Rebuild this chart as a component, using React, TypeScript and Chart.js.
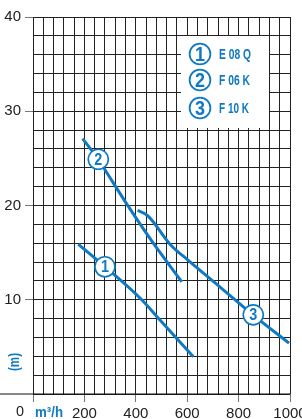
import React, { useEffect, useRef } from "react";
import { Chart, registerables } from "chart.js";

Chart.register(...registerables);

// ---- data ----
const curve1X = [176, 280, 423, 494, 624];
const curve1Y = [15.9, 13.5, 10.0, 7.85, 3.96];

const curve2X = [193, 254, 280, 371, 468, 579];
const curve2Y = [27.1, 24.9, 23.8, 19.9, 16.0, 11.9];

const curve3X = [407, 447, 533, 603, 728, 856, 996];
const curve3Y = [19.5, 18.9, 15.9, 14.2, 11.35, 8.4, 5.4];

const curveNumbers = ["1", "2", "3"];
const curveNames = ["E 08 Q", "F 06 K", "F 10 K"];
// positions of the numbered markers on the curves (data units)
const markerX = [280, 254, 857];
const markerY = [13.5, 24.9, 8.4];

const xMin = 0;
const xMax = 1000;
const xStep = 40;
const xLabelEvery = 200;
const yMin = 0;
const yMax = 40;
const yStep = 2;
const yLabelEvery = 10;
const xUnit = "m³/h";
const yUnit = "(m)";

const BLUE = "#0f79c3";
const FONT = "'Liberation Sans', Arial, sans-serif";

function toPoints(xs: number[], ys: number[]) {
  return xs.map((x, i) => ({ x, y: ys[i] }));
}

// draw text squeezed horizontally to a given width (condensed look)
function fitText(ctx: any, text: string, x: number, y: number, width: number, align: "left" | "center") {
  const w = ctx.measureText(text).width;
  const s = Math.min(1, width / w);
  ctx.save();
  ctx.translate(x, y);
  ctx.scale(s, 1);
  ctx.textAlign = align;
  ctx.textBaseline = "middle";
  ctx.fillText(text, 0, 0);
  ctx.restore();
}

const overlay = {
  id: "overlay",
  beforeDatasetsDraw(chart: any) {
    const ctx = chart.ctx;
    ctx.save();
    // legend box
    ctx.fillStyle = "#ffffff";
    ctx.fillRect(181, 36, 88, 92);
    const ys = [54, 80, 108];
    const widths = [32, 31, 30];
    curveNumbers.forEach((n, i) => {
      ctx.beginPath();
      ctx.arc(200, ys[i], 10.4, 0, Math.PI * 2);
      ctx.lineWidth = 1.8;
      ctx.strokeStyle = BLUE;
      ctx.stroke();
      ctx.fillStyle = BLUE;
      ctx.font = `bold 21px ${FONT}`;
      fitText(ctx, n, 200, ys[i] + 1, 10, "center");
      ctx.font = `bold 14px ${FONT}`;
      fitText(ctx, curveNames[i], 219, ys[i] + 1, widths[i], "left");
    });
    ctx.restore();
  },
  afterDatasetsDraw(chart: any) {
    const ctx = chart.ctx;
    const xs = chart.scales.x;
    const ys = chart.scales.y;
    ctx.save();
    curveNumbers.forEach((n, i) => {
      const px = xs.getPixelForValue(markerX[i]);
      const py = ys.getPixelForValue(markerY[i]);
      ctx.beginPath();
      ctx.arc(px, py, 10, 0, Math.PI * 2);
      ctx.fillStyle = "#ffffff";
      ctx.fill();
      ctx.lineWidth = 1.6;
      ctx.strokeStyle = BLUE;
      ctx.stroke();
      ctx.fillStyle = BLUE;
      ctx.font = `bold 16px ${FONT}`;
      fitText(ctx, n, px, py + 1, 8, "center");
    });
    ctx.restore();
  },
  afterDraw(chart: any) {
    const ctx = chart.ctx;
    const area = chart.chartArea;
    ctx.save();
    // bottom axis line extended to the left edge
    ctx.beginPath();
    ctx.moveTo(0, area.bottom);
    ctx.lineTo(area.right, area.bottom);
    ctx.lineWidth = 1.2;
    ctx.strokeStyle = "#111";
    ctx.stroke();
    // "0" and unit labels
    ctx.fillStyle = "#222";
    ctx.font = `15px ${FONT}`;
    fitText(ctx, "0", 20, 412, 8, "center");
    ctx.fillStyle = BLUE;
    ctx.font = `bold 15px ${FONT}`;
    fitText(ctx, xUnit, 35, 413, 28, "left");
    ctx.translate(15, 362);
    ctx.rotate(-Math.PI / 2);
    ctx.font = `bold 14px ${FONT}`;
    fitText(ctx, yUnit, 0, 0, 18, "center");
    ctx.restore();
  },
};

export default function App() {
  const ref = useRef<HTMLCanvasElement | null>(null);
  useEffect(() => {
    if (!ref.current) return;
    const lineDs = (xs: number[], ys: number[]) => ({
      data: toPoints(xs, ys),
      borderColor: BLUE,
      borderWidth: 3,
      pointRadius: 0,
      showLine: true,
      cubicInterpolationMode: "monotone",
      fill: false,
    });
    const chart = new Chart(ref.current, {
      type: "scatter",
      data: {
        datasets: [
          lineDs(curve1X, curve1Y),
          lineDs(curve2X, curve2Y),
          lineDs(curve3X, curve3Y),
        ],
      },
      options: {
        responsive: false,
        animation: false,
        devicePixelRatio: 1,
        layout: { padding: 0 },
        plugins: { legend: { display: false }, tooltip: { enabled: false } },
        scales: {
          x: {
            type: "linear",
            min: xMin,
            max: xMax,
            afterFit(scale: any) {
              scale.height = 25;
              scale.paddingLeft = 0;
              scale.paddingRight = 12;
            },
            ticks: {
              stepSize: xStep,
              autoSkip: false,
              maxRotation: 0,
              padding: 3,
              color: "#222",
              font: { family: FONT, size: 15 },
              callback: (v: any) => (v % xLabelEvery === 0 && v !== 0 ? String(v) : ""),
            },
            grid: {
              color: "#222",
              lineWidth: 1,
              tickLength: 8,
              tickColor: (c: any) => (c.tick && c.tick.value % xLabelEvery === 0 ? "#777" : "rgba(0,0,0,0)"),
            },
            border: { display: false },
          },
          y: {
            type: "linear",
            min: yMin,
            max: yMax,
            afterFit(scale: any) {
              scale.width = 33;
              scale.paddingTop = 17;
              scale.paddingBottom = 0;
            },
            ticks: {
              stepSize: yStep,
              autoSkip: false,
              padding: 4,
              color: "#222",
              font: { family: FONT, size: 15 },
              callback: (v: any) => (v % yLabelEvery === 0 && v !== 0 ? String(v) : ""),
            },
            grid: {
              color: "#222",
              lineWidth: 1,
              tickLength: 8,
              tickColor: (c: any) => (c.tick && c.tick.value % yLabelEvery === 0 && c.tick.value !== 0 ? "#777" : "rgba(0,0,0,0)"),
            },
            border: { display: false },
          },
        },
      },
      plugins: [overlay],
    } as any);
    return () => chart.destroy();
  }, []);
  return (
    <div style={{ position: "absolute", left: 0, top: 0, width: 302, height: 419, background: "#fff" }}>
      <canvas ref={ref} width={302} height={419} style={{ width: 302, height: 419, display: "block" }} />
    </div>
  );
}
